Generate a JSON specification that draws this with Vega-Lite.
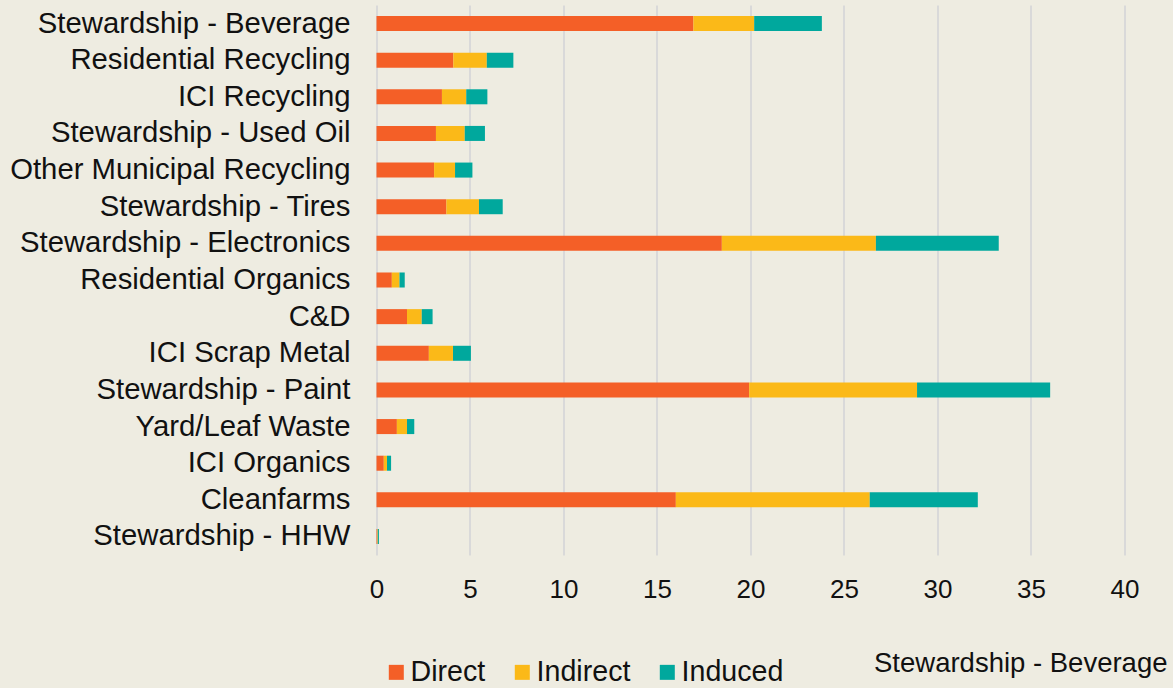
{
  "$schema": "https://vega.github.io/schema/vega-lite/v6.json",
  "width": 796.5,
  "height": 550,
  "autosize": {"type": "none"},
  "padding": {"left": 376.5, "top": 5, "right": 0, "bottom": 133},
  "background": "#EEECE1",
  "config": {
    "view": {"stroke": null},
    "font": "Liberation Sans",
    "axis": {"labelFont": "Liberation Sans", "titleFont": "Liberation Sans"},
    "legend": {"labelFont": "Liberation Sans"}
  },
  "data": {
    "values": [
      {"category": "Stewardship - Beverage", "type": "Direct", "value": 16.95},
      {"category": "Stewardship - Beverage", "type": "Indirect", "value": 3.25},
      {"category": "Stewardship - Beverage", "type": "Induced", "value": 3.62},
      {"category": "Residential Recycling", "type": "Direct", "value": 4.11},
      {"category": "Residential Recycling", "type": "Indirect", "value": 1.79},
      {"category": "Residential Recycling", "type": "Induced", "value": 1.42},
      {"category": "ICI Recycling", "type": "Direct", "value": 3.5},
      {"category": "ICI Recycling", "type": "Indirect", "value": 1.3},
      {"category": "ICI Recycling", "type": "Induced", "value": 1.13},
      {"category": "Stewardship - Used Oil", "type": "Direct", "value": 3.18},
      {"category": "Stewardship - Used Oil", "type": "Indirect", "value": 1.54},
      {"category": "Stewardship - Used Oil", "type": "Induced", "value": 1.08},
      {"category": "Other Municipal Recycling", "type": "Direct", "value": 3.08},
      {"category": "Other Municipal Recycling", "type": "Indirect", "value": 1.12},
      {"category": "Other Municipal Recycling", "type": "Induced", "value": 0.93},
      {"category": "Stewardship - Tires", "type": "Direct", "value": 3.74},
      {"category": "Stewardship - Tires", "type": "Indirect", "value": 1.74},
      {"category": "Stewardship - Tires", "type": "Induced", "value": 1.27},
      {"category": "Stewardship - Electronics", "type": "Direct", "value": 18.47},
      {"category": "Stewardship - Electronics", "type": "Indirect", "value": 8.24},
      {"category": "Stewardship - Electronics", "type": "Induced", "value": 6.57},
      {"category": "Residential Organics", "type": "Direct", "value": 0.82},
      {"category": "Residential Organics", "type": "Indirect", "value": 0.41},
      {"category": "Residential Organics", "type": "Induced", "value": 0.28},
      {"category": "C&D", "type": "Direct", "value": 1.63},
      {"category": "C&D", "type": "Indirect", "value": 0.79},
      {"category": "C&D", "type": "Induced", "value": 0.58},
      {"category": "ICI Scrap Metal", "type": "Direct", "value": 2.8},
      {"category": "ICI Scrap Metal", "type": "Indirect", "value": 1.29},
      {"category": "ICI Scrap Metal", "type": "Induced", "value": 0.96},
      {"category": "Stewardship - Paint", "type": "Direct", "value": 19.93},
      {"category": "Stewardship - Paint", "type": "Indirect", "value": 8.98},
      {"category": "Stewardship - Paint", "type": "Induced", "value": 7.12},
      {"category": "Yard/Leaf Waste", "type": "Direct", "value": 1.09},
      {"category": "Yard/Leaf Waste", "type": "Indirect", "value": 0.54},
      {"category": "Yard/Leaf Waste", "type": "Induced", "value": 0.39},
      {"category": "ICI Organics", "type": "Direct", "value": 0.39},
      {"category": "ICI Organics", "type": "Indirect", "value": 0.17},
      {"category": "ICI Organics", "type": "Induced", "value": 0.22},
      {"category": "Cleanfarms", "type": "Direct", "value": 16.01},
      {"category": "Cleanfarms", "type": "Indirect", "value": 10.37},
      {"category": "Cleanfarms", "type": "Induced", "value": 5.78},
      {"category": "Stewardship - HHW", "type": "Direct", "value": 0.04},
      {"category": "Stewardship - HHW", "type": "Indirect", "value": 0.03},
      {"category": "Stewardship - HHW", "type": "Induced", "value": 0.06}
    ]
  },
  "mark": {"type": "bar"},
  "encoding": {
    "y": {
      "field": "category",
      "type": "nominal",
      "sort": null,
      "scale": {"paddingInner": 0.59, "paddingOuter": 0.3},
      "axis": {
        "title": null,
        "labelFontSize": 29.3,
        "labelColor": "#111111",
        "labelPadding": 26.5,
        "labelLimit": 500,
        "ticks": false,
        "tickSize": 0,
        "domain": false,
        "grid": false
      }
    },
    "x": {
      "field": "value",
      "type": "quantitative",
      "stack": "zero",
      "scale": {"domain": [0, 42.6], "nice": false},
      "axis": {
        "values": [0, 5, 10, 15, 20, 25, 30, 35, 40],
        "grid": true,
        "gridColor": "#D9D9D9",
        "gridWidth": 2,
        "domain": false,
        "ticks": false,
        "tickSize": 0,
        "labelFlush": false,
        "labelFontSize": 26,
        "labelColor": "#111111",
        "labelPadding": 21.5,
        "title": "Stewardship - Beverage",
        "titleFontSize": 27.5,
        "titleFontWeight": "normal",
        "titleColor": "#111111",
        "titleAnchor": "end",
        "titleAlign": "right",
        "titleX": 790.5,
        "titlePadding": 47
      }
    },
    "color": {
      "field": "type",
      "type": "nominal",
      "scale": {
        "domain": ["Direct", "Indirect", "Induced"],
        "range": ["#F45F27", "#FBB918", "#00A89D"]
      },
      "legend": {
        "orient": "none",
        "legendX": 5.5,
        "legendY": 653,
        "direction": "horizontal",
        "title": null,
        "padding": 0,
        "symbolType": "square",
        "symbolSize": 225,
        "symbolStrokeWidth": 0,
        "labelFontSize": 28.6,
        "labelColor": "#111111",
        "labelOffset": 0,
        "columnPadding": 22,
        "labelLimit": 300
      }
    }
  }
}
